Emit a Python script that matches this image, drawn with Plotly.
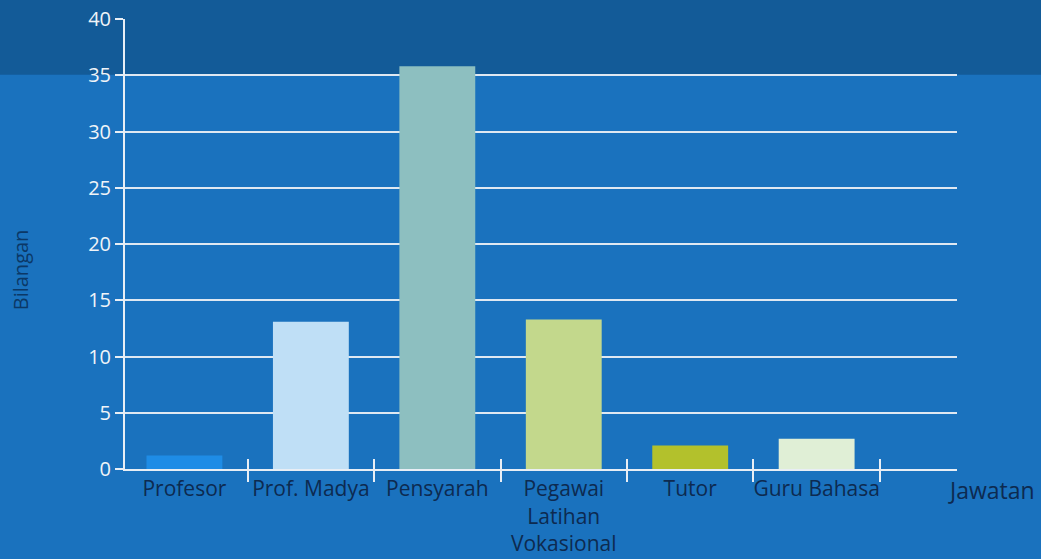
import plotly.graph_objects as go

categories = ["Profesor", "Prof. Madya", "Pensyarah", "Pegawai<br>Latihan<br>Vokasional", "Tutor", "Guru Bahasa"]
values = [1.2, 13.1, 35.8, 13.3, 2.1, 2.7]
bar_colors = ["#1e8ce6", "#bfdff6", "#8dbfc0", "#c3d88c", "#b3c12c", "#e0efd6"]
y_ticks = [0, 5, 10, 15, 20, 25, 30, 35, 40]

FONT = "Open Sans"
BG = "#1a72be"

fig = go.Figure()
fig.add_trace(go.Bar(x=categories, y=values, marker=dict(color=bar_colors, line=dict(width=0)),
                     width=0.6, hoverinfo="x+y"))
fig.add_trace(go.Scatter(x=categories, y=values, mode="markers", marker=dict(opacity=0),
                         xaxis="x2", hoverinfo="skip", showlegend=False))

fig.update_layout(
    width=1041, height=559,
    paper_bgcolor=BG, plot_bgcolor="rgba(0,0,0,0)",
    margin=dict(l=125, r=84, t=19, b=90),
    showlegend=False,
    font=dict(family=FONT),
    xaxis=dict(type="category", range=[-0.47, 6.11], tickson="boundaries", tickangle=0,
               automargin=False,
               ticks="outside", ticklen=11, tickwidth=2, tickcolor="#e8eef5",
               showline=True, linecolor="#e8eef5", linewidth=2,
               showgrid=False, zeroline=False,
               tickfont=dict(family=FONT, size=21, color="#0d2a50")),
    xaxis2=dict(type="category", overlaying="x", matches="x", tickson="boundaries",
                ticks="inside", ticklen=10, tickwidth=2, tickcolor="#e8eef5",
                showticklabels=False, showgrid=False, showline=False, zeroline=False),
    yaxis=dict(range=[0, 40], tickvals=y_ticks, ticks="outside", ticklen=8, tickwidth=2,
               automargin=False,
               tickcolor="#e8eef5", showline=True, linecolor="#e8eef5", linewidth=2,
               showgrid=True, gridcolor="#dfe8f2", gridwidth=2, zeroline=False,
               tickfont=dict(family=FONT, size=20, color="#f0f4f8")),
    shapes=[dict(type="rect", xref="paper", yref="paper", x0=-0.2, x1=1.15,
                 y0=0.876, y1=1.05, fillcolor="#135b98", line=dict(width=0), layer="below")],
    annotations=[
        dict(text="Jawatan", xref="paper", yref="paper", x=1.042, y=-0.047,
             xanchor="center", yanchor="middle", showarrow=False,
             font=dict(family=FONT, size=23, color="#0d2a50")),
        dict(text="Bilangan", xref="paper", yref="paper", x=-0.126, y=0.442,
             xanchor="center", yanchor="middle", showarrow=False, textangle=-90,
             font=dict(family=FONT, size=20, color="#0b3866")),
    ],
)

fig.write_html("out.html", config={"displayModeBar": False})

with open("out.html", "r", encoding="utf-8") as f:
    html = f.read()
html = html.replace("<body>", '<body style="margin:0;padding:0;overflow:hidden">', 1)
with open("out.html", "w", encoding="utf-8") as f:
    f.write(html)
